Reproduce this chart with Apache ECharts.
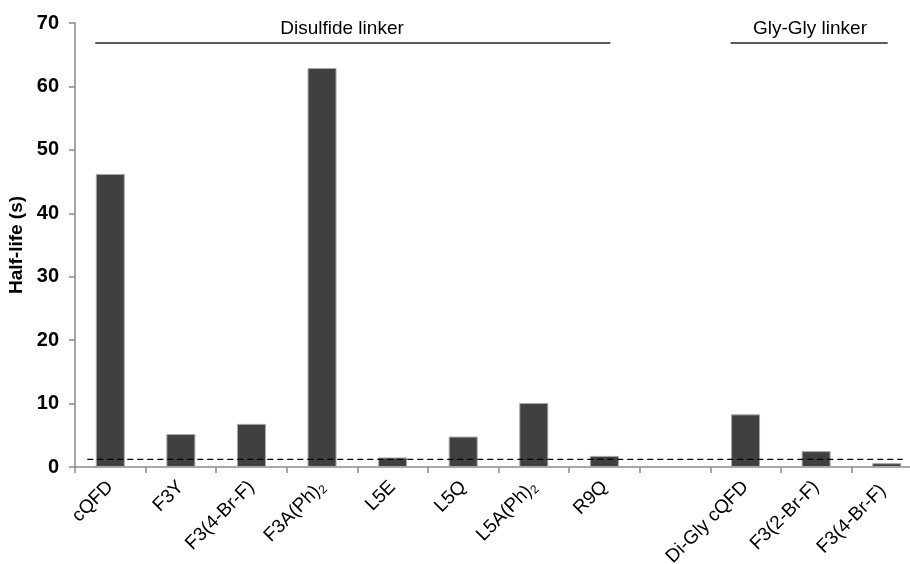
<!DOCTYPE html>
<html>
<head>
<meta charset="utf-8">
<script src="https://cdn.jsdelivr.net/npm/echarts@6/dist/echarts.min.js"></script>
<style>html,body{margin:0;padding:0;background:#fff;}#c{width:910px;height:564px;}</style>
</head>
<body>
<div id="c"></div>
<script>
var categories = ['cQFD', 'F3Y', 'F3(4-Br-F)', 'F3A(Ph)2', 'L5E', 'L5Q', 'L5A(Ph)2', 'R9Q', '', 'Di-Gly cQFD', 'F3(2-Br-F)', 'F3(4-Br-F) '];
var halfLife = [46.2, 5.2, 6.8, 62.9, 1.5, 4.8, 10.1, 1.75, null, 8.3, 2.5, 0.6];
var thresholdValue = 1.2;
var yTicks = [0, 10, 20, 30, 40, 50, 60, 70];
var groupLabels = ['Disulfide linker', 'Gly-Gly linker'];

var FONT = '"Liberation Sans", Arial, sans-serif';
var chart = echarts.init(document.getElementById('c'), null, {renderer: 'canvas'});

function fmtLabel(v) {
  var m = v.match(/^(.*\(Ph\))2$/);
  if (m) return m[1] + '{sub|2}';
  return v;
}

var option = {
  animation: false,
  backgroundColor: '#ffffff',
  grid: {left: 75, right: -12, top: 23, bottom: 97, containLabel: false, outerBoundsMode: 'none'},
  xAxis: {
    type: 'category',
    data: categories,
    boundaryGap: true,
    axisLine: {lineStyle: {color: '#8a8a8a', width: 1.5}},
    axisTick: {show: true, length: 6, lineStyle: {color: '#8a8a8a', width: 1.5}},
    axisLabel: {
      interval: 0,
      rotate: 45,
      margin: 17,
      color: '#000',
      fontFamily: FONT,
      fontSize: 19,
      formatter: fmtLabel,
      rich: {sub: {fontSize: 12, verticalAlign: 'bottom', padding: [10, 0, 0, 0], fontFamily: FONT, color: '#000'}}
    }
  },
  yAxis: {
    type: 'value',
    min: yTicks[0],
    max: yTicks[yTicks.length - 1],
    interval: 10,
    name: 'Half-life (s)',
    nameLocation: 'middle',
    nameGap: 45,
    nameRotate: 90,
    nameTextStyle: {fontFamily: FONT, fontWeight: 'bold', fontSize: 19, color: '#000'},
    splitLine: {show: false},
    axisLine: {show: true, lineStyle: {color: '#8a8a8a', width: 1.5}},
    axisTick: {show: true, length: 6, lineStyle: {color: '#8a8a8a', width: 1.5}},
    axisLabel: {color: '#000', fontFamily: FONT, fontWeight: 'bold', fontSize: 20, margin: 16}
  },
  series: [{
    type: 'bar',
    data: halfLife,
    barWidth: 29,
    itemStyle: {color: '#404040', borderColor: '#a8a8a8', borderWidth: 1}
  }]
};
chart.setOption(option);

function px(cat, val) { return chart.convertToPixel({xAxisIndex: 0, yAxisIndex: 0}, [cat, val]); }
var yThr = chart.convertToPixel({yAxisIndex: 0}, thresholdValue);
var xStart = px(0, 0)[0] - 23;
var xEnd = px(11, 0)[0] + 16;
var g1a = px(0, 0)[0] - 15, g1b = px(7, 0)[0] + 6;
var g2a = px(9, 0)[0] - 15, g2b = px(11, 0)[0] + 1;
var gy = 43;

chart.setOption({
  graphic: [
    {type: 'line', shape: {x1: xStart, y1: yThr, x2: xEnd, y2: yThr}, style: {stroke: '#000', lineWidth: 1.3, lineDash: [6, 4]}, z: 100},
    {type: 'line', shape: {x1: g1a, y1: gy, x2: g1b, y2: gy}, style: {stroke: '#222', lineWidth: 1.5}},
    {type: 'line', shape: {x1: g2a, y1: gy, x2: g2b, y2: gy}, style: {stroke: '#222', lineWidth: 1.5}},
    {type: 'text', x: 342, y: 29, style: {text: groupLabels[0], font: '19px ' + FONT, fill: '#000', align: 'center', verticalAlign: 'middle'}},
    {type: 'text', x: 810, y: 29, style: {text: groupLabels[1], font: '19px ' + FONT, fill: '#000', align: 'center', verticalAlign: 'middle'}}
  ]
});
</script>
</body>
</html>
